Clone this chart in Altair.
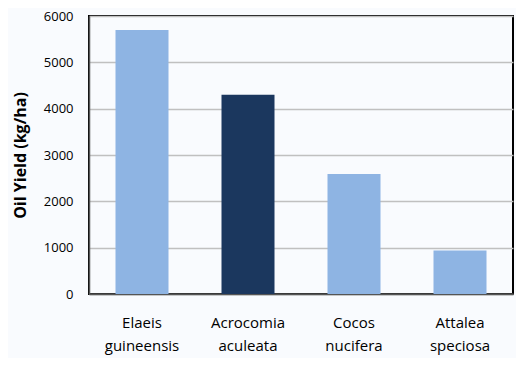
import altair as alt
import pandas as pd

species = ["Elaeis guineensis", "Acrocomia aculeata", "Cocos nucifera", "Attalea speciosa"]
oil_yield = [5700, 4300, 2590, 940]
highlight = ["no", "yes", "no", "no"]

df = pd.DataFrame({"species": species, "yield": oil_yield, "hl": highlight})

font = "Open Sans"

chart = alt.Chart(df).mark_bar().encode(
    x=alt.X("species:N", sort=species, title=None,
            scale=alt.Scale(paddingInner=0.5, paddingOuter=0.25),
            axis=alt.Axis(labelAngle=0, labelExpr="split(datum.label, ' ')",
                          labelFontSize=15, labelColor="#000", labelFont=font,
                          labelPadding=21, labelLineHeight=23, ticks=False,
                          domainColor="#555", domainWidth=1.5)),
    y=alt.Y("yield:Q", title="Oil Yield (kg/ha)",
            scale=alt.Scale(domain=[0, 6000]),
            axis=alt.Axis(values=[0, 1000, 2000, 3000, 4000, 5000, 6000], format="d",
                          ticks=False, labelPadding=16, labelFontSize=13,
                          labelColor="#000", labelFont=font,
                          titleFont=font, titleFontSize=16, titleFontWeight="bold",
                          titleColor="#000", titlePadding=15,
                          gridColor="#c0c0c0", gridWidth=1.5,
                          domainColor="#555", domainWidth=1.5)),
    color=alt.Color("hl:N", scale=alt.Scale(domain=["no", "yes"], range=["#8eb4e3", "#1b375e"]), legend=None),
).properties(
    width=424, height=278,
    background="#f9fbfe",
    padding={"left": 81, "top": 8, "right": 3, "bottom": 64},
    autosize=alt.AutoSizeParams(type="none"),
).configure_view(stroke="#000", strokeWidth=2)

chart.save("out.html", embed_options={"renderer": "svg", "actions": False})
